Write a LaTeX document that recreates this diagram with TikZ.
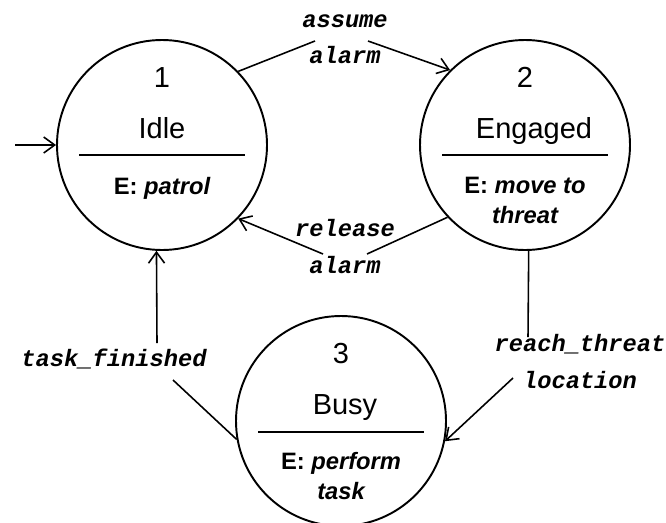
\documentclass[tikz,border=0pt]{standalone}
\usepackage{fontspec}
\setmainfont{Liberation Sans}
\setmonofont{Liberation Mono}
\usetikzlibrary{arrows.meta,calc}
\tikzset{
  state/.style={circle, draw=black, line width=1.1pt, minimum size=4.2cm, inner sep=0pt},
  statetext/.style={font=\fontsize{16.5}{20}\selectfont, anchor=base, inner sep=0pt},
  entry/.style={font=\fontsize{13.5}{17}\selectfont\bfseries\itshape, align=center, anchor=base, inner sep=0pt},
  trans/.style={font=\fontsize{13.5}{20.5}\selectfont\ttfamily\bfseries\itshape, align=center, anchor=base, inner sep=0pt},
  divider/.style={draw=black, line width=1.1pt},
  edge/.style={draw=black, line width=0.9pt},
  move/.style={-{Straight Barb[length=2.2mm,width=3.2mm]}, draw=black, line width=0.9pt},
}
\begin{document}
\begin{tikzpicture}[x=1cm,y=1cm]
  \useasboundingbox (0,0) rectangle (13.32,10.44);
  % States
  \node[state] (idle) at (3.24,7.54) {};
  \node[state] (engaged) at (10.50,7.54) {};
  \node[state] (busy) at (6.82,2.02) {};
  % State 1
  \node[statetext] (idlenum) at ($(idle)+(0,1.16)$) {1};
  \node[statetext] (idlename) at ($(idle)+(0,0.13)$) {Idle};
  \draw[divider] ($(idle)+(-1.66,-0.2)$) -- ($(idle)+(1.66,-0.2)$);
  \node[entry] (idleentry) at ($(idle)+(0,-0.98)$) {{\upshape E:} patrol};
  % State 2 (base anchor sits on the last line)
  \node[statetext] (engagednum) at ($(engaged)+(0,1.16)$) {2};
  \node[statetext] (engagedname) at ($(engaged)+(0.18,0.13)$) {Engaged};
  \draw[divider] ($(engaged)+(-1.66,-0.2)$) -- ($(engaged)+(1.66,-0.2)$);
  \node[entry] (engagedentry) at ($(engaged)+(0,-1.56)$) {{\upshape E:} move to\\threat};
  % State 3
  \node[statetext] (busynum) at ($(busy)+(0,1.16)$) {3};
  \node[statetext] (busyname) at ($(busy)+(0.08,0.13)$) {Busy};
  \draw[divider] ($(busy)+(-1.66,-0.22)$) -- ($(busy)+(1.66,-0.22)$);
  \node[entry] (busyentry) at ($(busy)+(0,-1.56)$) {{\upshape E:} perform\\task};
  % Initial arrow
  \coordinate (init) at (0.30,7.54);
  \draw[move] (init) -- (idle.west);
  % Idle -> Engaged
  \node[trans] (assume) at (6.90,9.16) {assume\\alarm};
  \coordinate (assumeL) at (6.30,9.62);
  \coordinate (assumeR) at (7.36,9.62);
  \draw[edge] (idle.44) -- (assumeL);
  \draw[move] (assumeR) -- (engaged.135);
  % Engaged -> Idle
  \node[trans] (release) at (6.90,4.98) {release\\alarm};
  \coordinate (releaseR) at (7.34,5.36);
  \coordinate (releaseL) at (6.46,5.36);
  \draw[edge] (engaged.223) -- (releaseR);
  \draw[move] (releaseL) -- (idle.316);
  % Engaged -> Busy
  \node[trans] (reach) at (11.60,2.68) {reach\_threat\\location};
  \coordinate (reachT) at (10.56,3.70);
  \coordinate (reachB) at (10.26,2.88);
  \draw[edge] (engaged.272) -- (reachT);
  \draw[move] (reachB) -- (busy.349);
  % Busy -> Idle
  \node[trans] (finished) at (2.28,3.12) {task\_finished};
  \coordinate (finishedB) at (3.46,2.84);
  \coordinate (finishedT) at (3.14,3.58);
  \draw[edge] (busy.190) -- (finishedB);
  \draw[move] (finishedT) -- (idle.267);
\end{tikzpicture}
\end{document}
